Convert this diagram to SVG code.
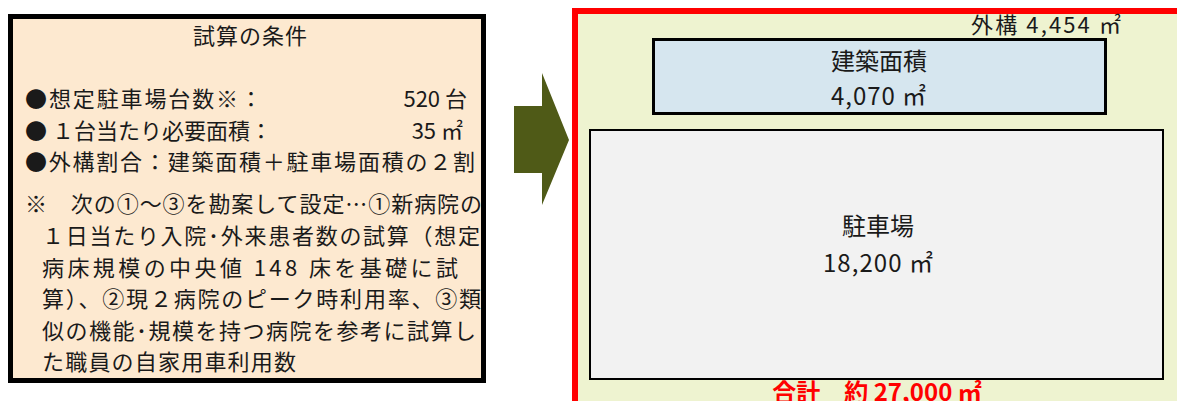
<svg xmlns="http://www.w3.org/2000/svg" width="1177" height="401" viewBox="0 0 1177 401">
<style>
text { font-family: "Noto Sans CJK JP", "Noto Sans", sans-serif; fill: #1a1a1a; }
.t22 { font-size: 22px; }
.t24 { font-size: 24px; }
.title { font-size: 22px; }
.mid { text-anchor: middle; }
.total { font-size: 24px; font-weight: bold; fill: #FF0000; text-anchor: middle; }
</style>
<rect width="1177" height="401" fill="#FFFFFF"/>

<g id="conditions">
  <rect x="10.5" y="16.5" width="473" height="364" fill="#FDE9D0" stroke="#000000" stroke-width="5"/>
  <text class="title" x="193" y="44" textLength="114" lengthAdjust="spacing">試算の条件</text>
  <text class="t22" x="25" y="107" textLength="237" lengthAdjust="spacing">●想定駐車場台数※：</text>
  <text class="t22" x="467" y="107" text-anchor="end">520 台</text>
  <text class="t22" x="25" y="139" textLength="247" lengthAdjust="spacing">● １台当たり必要面積：</text>
  <text class="t22" x="463" y="139" text-anchor="end">35 ㎡</text>
  <text class="t22" x="25" y="170" textLength="450" lengthAdjust="spacing">●外構割合：建築面積＋駐車場面積の２割</text>
  <text class="t22" x="25" y="212" textLength="457" lengthAdjust="spacing">※　次の①～③を勘案して設定…①新病院の</text>
  <text class="t22" x="42" y="244" textLength="438" lengthAdjust="spacing">１日当たり入院･外来患者数の試算（想定</text>
  <text class="t22" x="42" y="276" textLength="416" lengthAdjust="spacing">病床規模の中央値 148 床を基礎に試</text>
  <text class="t22" x="42" y="307" textLength="439" lengthAdjust="spacing">算）、②現２病院のピーク時利用率、③類</text>
  <text class="t22" x="42" y="339" textLength="434" lengthAdjust="spacing">似の機能･規模を持つ病院を参考に試算し</text>
  <text class="t22" x="42" y="370" textLength="254" lengthAdjust="spacing">た職員の自家用車利用数</text>
</g>

<g id="connectors">
  <polygon points="514,106 542,106 542,73 569,140 542,205 542,173 514,173" fill="#4F5A17"/>
</g>

<g id="site">
  <rect x="575" y="11" width="700" height="500" fill="#EEF3D0" stroke="#FF0000" stroke-width="6"/>
  <text class="t22" x="971" y="33" textLength="150" lengthAdjust="spacing">外構 4,454 ㎡</text>
  <text class="total" x="877" y="401">合計　約 27,000 ㎡</text>
</g>

<g id="building">
  <rect x="653.5" y="39.5" width="452" height="74" fill="#D6E6EF" stroke="#000000" stroke-width="3"/>
  <text class="t24" x="831" y="70" textLength="96" lengthAdjust="spacing">建築面積</text>
  <text class="t24" x="831" y="105" textLength="95" lengthAdjust="spacing">4,070 ㎡</text>
</g>

<g id="parking">
  <rect x="590" y="130" width="573" height="249" fill="#F2F2F2" stroke="#000000" stroke-width="2"/>
  <text class="t24" x="842" y="235" textLength="72" lengthAdjust="spacing">駐車場</text>
  <text class="t24" x="823" y="272" textLength="110" lengthAdjust="spacing">18,200 ㎡</text>
</g>
</svg>
